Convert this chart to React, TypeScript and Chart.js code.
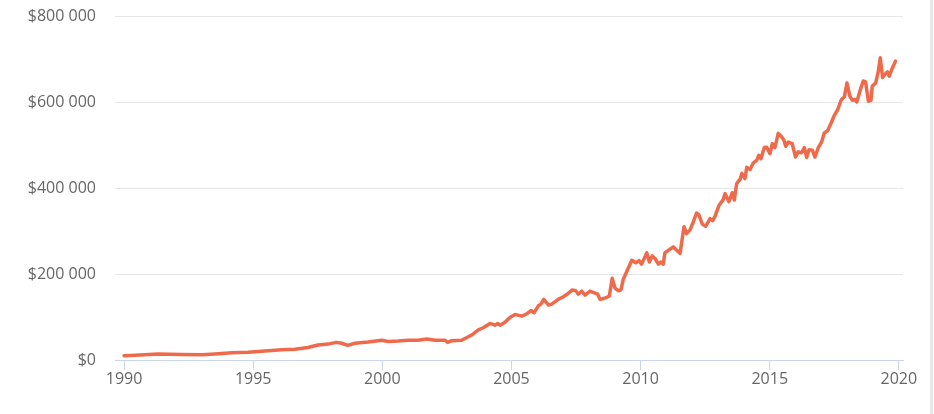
import React, { useEffect, useRef } from 'react';
import { Chart, registerables } from 'chart.js';

Chart.register(...registerables);

// Decimal years of each reading
const years = [
  1990.0, 1990.43, 1991.32, 1992.23, 1993.01, 1993.52, 1994.17, 1994.8, 1995.46, 1996.11,
  1996.62, 1997.12, 1997.51, 1997.9, 1998.21, 1998.43, 1998.66, 1998.94, 1999.45, 1999.98,
  2000.22, 2000.61, 2001.0, 2001.38, 2001.72, 2002.04, 2002.43, 2002.53, 2002.69, 2003.07,
  2003.2, 2003.46, 2003.72, 2003.91, 2004.17, 2004.36, 2004.47, 2004.56, 2004.75, 2004.94,
  2005.14, 2005.4, 2005.59, 2005.76, 2005.88, 2006.04, 2006.14, 2006.25, 2006.43, 2006.56,
  2006.81, 2007.01, 2007.2, 2007.36, 2007.49, 2007.59, 2007.72, 2007.85, 2008.04, 2008.21,
  2008.34, 2008.43, 2008.56, 2008.73, 2008.79, 2008.9, 2009.01, 2009.14, 2009.24, 2009.33,
  2009.46, 2009.66, 2009.81, 2009.94, 2010.04, 2010.24, 2010.34, 2010.45, 2010.56, 2010.69,
  2010.79, 2010.88, 2010.94, 2011.1, 2011.27, 2011.37, 2011.53, 2011.68, 2011.78, 2011.91,
  2012.04, 2012.17, 2012.26, 2012.39, 2012.52, 2012.69, 2012.79, 2012.88, 2013.04, 2013.2,
  2013.27, 2013.42, 2013.55, 2013.63, 2013.72, 2013.85, 2013.92, 2014.04, 2014.11, 2014.24,
  2014.36, 2014.5, 2014.58, 2014.66, 2014.79, 2014.88, 2015.01, 2015.1, 2015.2, 2015.33,
  2015.46, 2015.55, 2015.62, 2015.72, 2015.87, 2016.0, 2016.1, 2016.23, 2016.34, 2016.43,
  2016.52, 2016.65, 2016.75, 2016.88, 2017.01, 2017.11, 2017.24, 2017.37, 2017.5, 2017.63,
  2017.76, 2017.89, 2017.99, 2018.11, 2018.2, 2018.3, 2018.37, 2018.5, 2018.62, 2018.71,
  2018.82, 2018.92, 2018.97, 2019.1, 2019.2, 2019.28, 2019.37, 2019.49, 2019.56, 2019.63,
  2019.72, 2019.87,
];

// Values in thousands of dollars
const valuesK = [
  10, 11, 14, 13, 12, 14, 17, 18, 21, 24,
  25, 29, 35, 37, 41, 39, 34, 39, 42, 46,
  43, 44, 46, 46, 49, 46, 46, 41, 45, 46,
  50, 58, 70, 75, 85, 81, 85, 81, 88, 99,
  106, 102, 107, 115, 110, 126, 130, 141, 128, 130,
  141, 147, 155, 163, 161, 153, 160, 151, 160, 156,
  153, 141, 143, 147, 149, 190, 167, 161, 163, 188,
  205, 232, 226, 231, 223, 249, 228, 242, 236, 223,
  228, 223, 249, 256, 263, 257, 248, 310, 294, 302,
  321, 342, 337, 316, 311, 329, 324, 334, 360, 373,
  387, 368, 389, 372, 410, 420, 434, 422, 448, 443,
  458, 465, 476, 468, 494, 495, 480, 503, 494, 527,
  519, 511, 497, 507, 503, 472, 484, 482, 494, 471,
  489, 488, 472, 494, 507, 528, 533, 550, 569, 582,
  604, 612, 644, 612, 604, 606, 600, 627, 649, 647,
  602, 604, 637, 644, 670, 703, 657, 666, 670, 660,
  675, 695,
];

const yearTicks = [1990, 1995, 2000, 2005, 2010, 2015, 2020];
const valueTicks = [0, 200000, 400000, 600000, 800000];

const fmtMoney = (v: number) => '$' + Math.round(v).toLocaleString('en-US').replace(/,/g, ' ');

export default function App() {
  const ref = useRef<HTMLCanvasElement>(null);

  useEffect(() => {
    document.body.style.margin = '0';
    const font = { family: "'Open Sans', sans-serif", size: 16 };
    const chart = new Chart(ref.current as HTMLCanvasElement, {
      type: 'line',
      data: {
        datasets: [
          {
            data: years.map((x, i) => ({ x, y: valuesK[i] * 1000 })),
            borderColor: '#ef6a4b',
            borderWidth: 3.5,
            pointRadius: 0,
            tension: 0,
            fill: false,
            borderJoinStyle: 'round',
            borderCapStyle: 'round',
          },
        ],
      },
      options: {
        animation: false,
        responsive: false,
        maintainAspectRatio: false,
        layout: { padding: { top: 16, right: 31, left: 0, bottom: 0 } },
        plugins: { legend: { display: false }, tooltip: { enabled: false } },
        scales: {
          x: {
            type: 'linear',
            min: 1989.65,
            max: 2020.16,
            afterBuildTicks: (s: any) => {
              s.ticks = yearTicks.map((v) => ({ value: v }));
            },
            afterFit: (s: any) => {
              s.height = 54;
              s.paddingLeft = 0;
              s.paddingRight = 0;
            },
            grid: { drawOnChartArea: false, drawTicks: true, tickLength: 10, color: '#ccd6eb' },
            border: { color: '#ccd6eb', width: 1 },
            ticks: {
              color: '#666666',
              font,
              padding: 0,
              maxRotation: 0,
              autoSkip: false,
              callback: (v: any) => String(v),
            },
          },
          y: {
            min: 0,
            max: 800000,
            afterBuildTicks: (s: any) => {
              s.ticks = valueTicks.map((v) => ({ value: v }));
            },
            afterFit: (s: any) => {
              s.width = 115;
              s.paddingTop = 0;
              s.paddingBottom = 0;
            },
            grid: { color: '#e6e6e6', drawTicks: false },
            border: { display: false },
            ticks: {
              color: '#666666',
              font,
              padding: 19,
              callback: (v: any) => fmtMoney(Number(v)),
            },
          },
        },
      },
    });
    return () => chart.destroy();
  }, []);

  return (
    <div style={{ position: 'relative', width: 934, height: 414, background: '#ffffff' }}>
      <canvas ref={ref} width={934} height={414} style={{ display: 'block', width: 934, height: 414 }} />
      <div style={{ position: 'absolute', left: 930, top: 0, width: 3, height: 414, background: '#e6e6e6' }} />
    </div>
  );
}
